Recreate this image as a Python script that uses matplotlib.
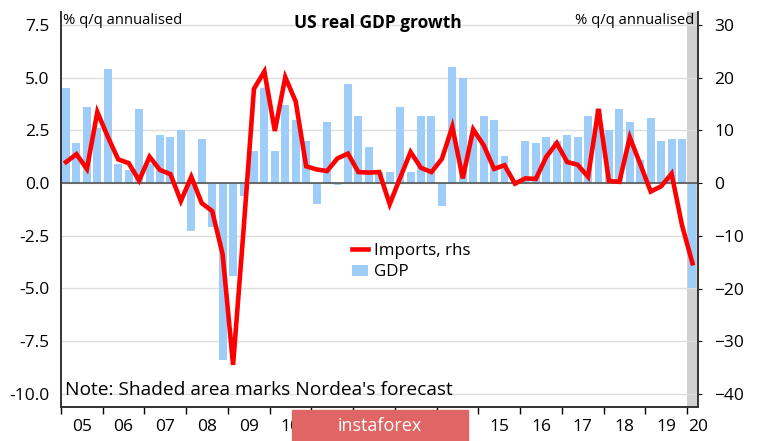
import matplotlib.pyplot as plt
import numpy as np
from matplotlib.lines import Line2D
from matplotlib.patches import Patch, Rectangle

plt.rcParams['font.family'] = ['Open Sans', 'DejaVu Sans']

# Quarterly data, 2005Q1 - 2020Q1 (2020Q1 is the forecast)
years = list(range(2005, 2021))
year_labels = ['05', '06', '07', '08', '09', '10', '11', '12', '13', '14',
               '15', '16', '17', '18', '19', '20']

gdp = [4.5, 1.9, 3.6, 2.6,
       5.4, 0.9, 0.6, 3.5,
       0.9, 2.3, 2.2, 2.5,
       -2.3, 2.1, -2.1, -8.4,
       -4.4, -0.6, 1.5, 4.5,
       1.5, 3.7, 3.0, 2.0,
       -1.0, 2.9, -0.1, 4.7,
       3.2, 1.7, 0.5, 0.5,
       3.6, 0.5, 3.2, 3.2,
       -1.1, 5.5, 5.0, 2.3,
       3.2, 3.0, 1.3, 0.1,
       2.0, 1.9, 2.2, 2.0,
       2.3, 2.2, 3.2, 3.5,
       2.5, 3.5, 2.9, 1.1,
       3.1, 2.0, 2.1, 2.1,
       -5.0]

imports = [4.0, 5.5, 2.7, 13.5,
           8.8, 4.5, 3.8, 0.5,
           5.0, 2.5, 1.7, -3.4,
           1.2, -3.8, -5.3, -13.5,
           -34.5, -9.0, 17.9, 21.2,
           9.9, 20.1, 15.5, 3.2,
           2.6, 2.3, 4.7, 5.6,
           2.1, 2.0, 2.1, -4.0,
           1.0, 5.9, 2.9, 2.1,
           4.6, 10.7, 0.9, 10.2,
           7.2, 2.7, 3.4, -0.1,
           0.9, 0.8, 5.0, 7.6,
           4.0, 3.5, 1.2, 14.1,
           0.4, 0.25, 8.7, 3.6,
           -1.6, -0.6, 1.8, -8.0,
           -15.2]

# x position = centre of each quarter
x = 2005 + np.arange(len(gdp)) * 0.25 + 0.125

fig = plt.figure(figsize=(7.6, 4.41), dpi=100)
ax = fig.add_axes([0.080, 0.077, 0.838, 0.896])
ax2 = ax.twinx()

# forecast shading
ax.axvspan(2020, 2020.25, color='#d0d0d0', lw=0, zorder=0)

ax.bar(x, gdp, width=0.19, color='#9dcdf8', zorder=2)
ax.axhline(0, color='#555555', lw=1.2, zorder=3)
ax2.plot(x, imports, color='#ff0000', lw=3.3, solid_joinstyle='miter', zorder=4)

ax.set_xlim(2005, 2020.25)
ax.set_ylim(-10.63, 8.12)
ax2.set_ylim(-42.5, 32.5)

ax.set_yticks([-10, -7.5, -5, -2.5, 0, 2.5, 5, 7.5])
ax.set_yticklabels(['-10.0', '-7.5', '-5.0', '-2.5', '0.0', '2.5', '5.0', '7.5'])
ax.yaxis.grid(True, color='#dedede', lw=1)
ax.set_axisbelow(True)
ax.tick_params(axis='y', length=0, labelsize=12.5, pad=8)

ax2.set_yticks([-40, -30, -20, -10, 0, 10, 20, 30])
ax2.tick_params(axis='y', length=3, labelsize=12.5, pad=9)

# year tick marks at boundaries, labels in the middle of each year
ax.set_xticks(years[:-1] + [2020])
ax.set_xticklabels([])
ax.tick_params(axis='x', length=5, width=1)
label_pos = [y + 0.5 for y in years[:-1]] + [2020.25]
for pos, lab in zip(label_pos, year_labels):
    ax.text(pos, -0.03, lab, transform=ax.get_xaxis_transform(),
            ha='center', va='top', fontsize=12.5)

for a in (ax, ax2):
    a.spines['top'].set_visible(False)
    for s in ('left', 'right', 'bottom'):
        a.spines[s].set_color('#333333')
        a.spines[s].set_linewidth(1.2)

ax.text(0.004, 0.978, '% q/q annualised', transform=ax.transAxes,
        ha='left', va='center', fontsize=10.6)
ax.text(0.994, 0.978, '% q/q annualised', transform=ax.transAxes,
        ha='right', va='center', fontsize=10.6)
ax.text(0.498, 0.972, 'US real GDP growth', transform=ax.transAxes,
        ha='center', va='center', fontsize=12.5, fontweight='bold')
ax.text(0.006, 0.043, "Note: Shaded area marks Nordea's forecast",
        transform=ax.transAxes, ha='left', va='center', fontsize=13.8)

handles = [Line2D([], [], color='#ff0000', lw=3.3),
           Patch(facecolor='#9dcdf8')]
ax2.legend(handles, ['Imports, rhs', 'GDP'], loc='upper left',
           bbox_to_anchor=(0.434, 0.455), frameon=False, fontsize=12.2,
           handlelength=0.9, handletextpad=0.4, labelspacing=0.35)

# watermark box
fig.add_artist(Rectangle((292 / 760, 0), 176 / 760, 31 / 441,
                         transform=fig.transFigure, color='#e06666', zorder=10))
fig.text(380 / 760, 15 / 441, 'instaforex', color='white', fontsize=13,
         ha='center', va='center', zorder=11)

fig.savefig('out.png', dpi=100)
